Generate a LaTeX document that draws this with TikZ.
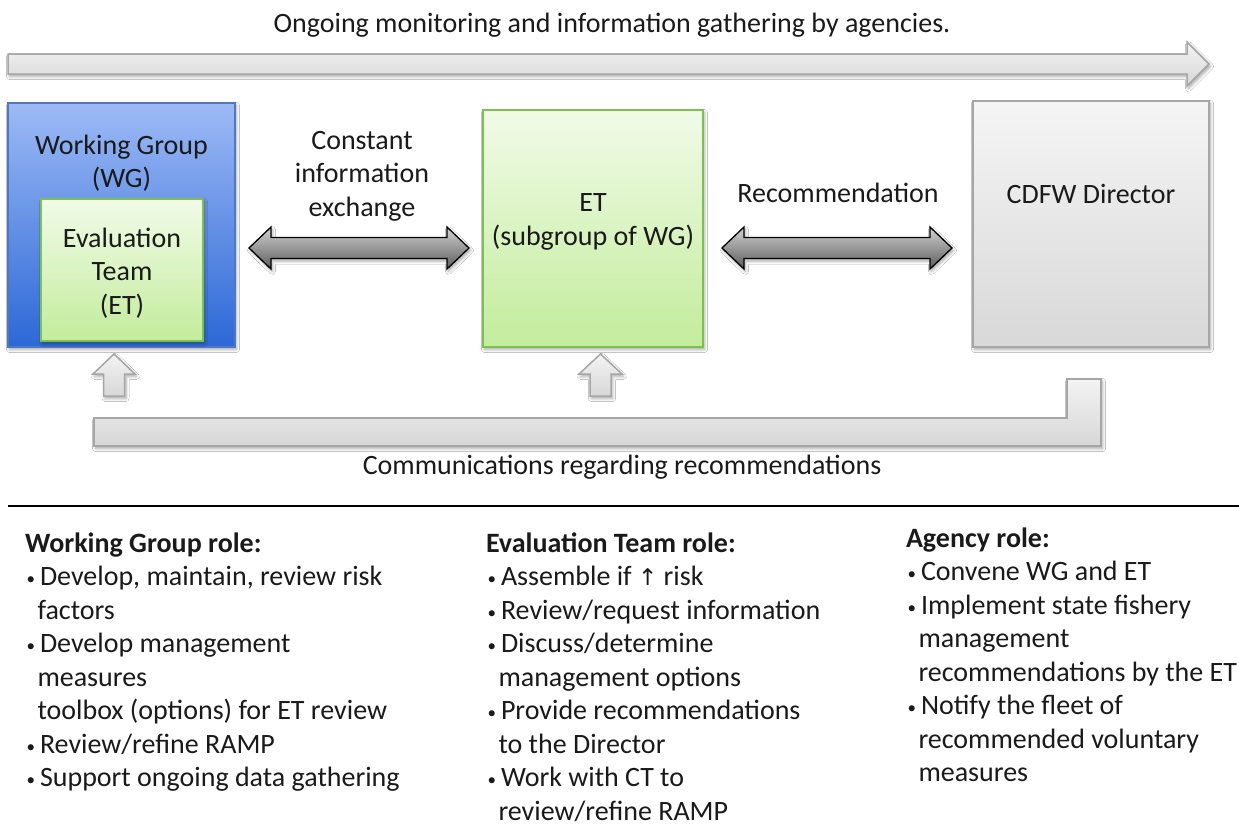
\documentclass[tikz,border=0pt]{standalone}
\usepackage{fontspec}
\setmainfont{Carlito}
\newfontfamily\symfont{DejaVu Sans}
\usetikzlibrary{shadows.blur}
\definecolor{wgtop}{HTML}{9DBAF6}
\definecolor{wgbot}{HTML}{2C68D6}
\definecolor{wgborder}{HTML}{4E78C4}
\definecolor{ettop}{HTML}{F1FBE8}
\definecolor{etbot}{HTML}{C3EC9C}
\definecolor{etborder}{HTML}{7DC04C}
\definecolor{dirtop}{HTML}{F5F5F5}
\definecolor{dirbot}{HTML}{D8D8D8}
\definecolor{dirborder}{HTML}{A6A6A6}
\definecolor{ltop}{HTML}{F3F3F3}
\definecolor{lbot}{HTML}{D7D7D7}
\definecolor{dtop}{HTML}{D2D2D2}
\definecolor{dbot}{HTML}{5C5C5C}
\definecolor{textcol}{HTML}{1A1A1A}
\newcommand{\bl}{\makebox[15pt][l]{\hspace*{1.5pt}\raisebox{1pt}{\fontsize{17}{33.5}\selectfont•}}}
\newcommand{\cl}{\hspace*{12.5pt}}
\begin{document}
\begin{tikzpicture}[x=1pt,y=1pt,
  shad/.style={blur shadow={shadow xshift=1.5pt, shadow yshift=-2.5pt, shadow opacity=35, shadow blur steps=6, shadow blur radius=3pt}},
  boxbase/.style={rectangle, inner sep=0pt, outer sep=0pt, anchor=north west, shad},
  wgbox/.style={boxbase, draw=wgborder, line width=1.2pt, top color=wgtop, bottom color=wgbot},
  etbox/.style={boxbase, draw=etborder, line width=1.5pt, top color=ettop, bottom color=etbot},
  dirbox/.style={boxbase, draw=dirborder, line width=1.5pt, top color=dirtop, bottom color=dirbot},
  lightarrow/.style={draw=dirborder, line width=1.5pt, top color=ltop, bottom color=lbot, shad},
  darkarrow/.style={draw=black, line width=1.3pt, top color=dtop, bottom color=dbot, shad},
  txt/.style={font=\fontsize{28}{33.5}\selectfont, inner sep=0pt, outer sep=0pt, text=textcol},
  rule/.style={draw=black, line width=2pt}
]
\useasboundingbox (0,0) rectangle (1239,-823);
\fill[white] (0,0) rectangle (1239,-823);

% title and top arrow
\node[txt, anchor=base] (title) at (612,-32) {Ongoing monitoring and information gathering by agencies.};
\path[lightarrow] (8,-54) -- (1187,-54) -- (1187,-42) -- (1209,-64) -- (1187,-86) -- (1187,-74) -- (8,-74) -- cycle;

% boxes
\node[wgbox, minimum width=227pt, minimum height=244pt] (wg) at (8,-103) {};
\node[etbox, minimum width=162pt, minimum height=142pt] (etin) at (41,-199) {};
\node[etbox, minimum width=220pt, minimum height=237pt] (et) at (483,-110) {};
\node[dirbox, minimum width=236pt, minimum height=246pt] (dir) at (973,-101) {};

\node[txt, align=center, anchor=north] (wgtxt) at (121.5,-130.55) {\strut Working Group\\(WG)};
\node[txt, align=center, anchor=north] (etintxt) at (122,-223.55) {\strut Evaluation\\Team\\(ET)};
\node[txt, align=center, anchor=north] (ettxt) at (593,-188.05) {\strut ET\\(subgroup of WG)};
\node[txt, anchor=base] (dirtxt) at (1091,-203) {CDFW Director};

% double arrows
\path[darkarrow] (249,-248) -- (271,-227) -- (271,-237.5) -- (447,-237.5) -- (447,-227) -- (469,-248) -- (447,-269) -- (447,-258.5) -- (271,-258.5) -- (271,-269) -- cycle;
\path[darkarrow] (722,-248) -- (744,-227) -- (744,-237.5) -- (930,-237.5) -- (930,-227) -- (952,-248) -- (930,-269) -- (930,-258.5) -- (744,-258.5) -- (744,-269) -- cycle;
\node[txt, align=center, anchor=north] (xch) at (362,-125.55) {\strut Constant\\information\\exchange};
\node[txt, anchor=base] (rec) at (838,-202) {Recommendation};

% up arrows and bracket
\path[lightarrow] (114,-354) -- (135,-374) -- (124.5,-374) -- (124.5,-396) -- (103.5,-396) -- (103.5,-374) -- (93,-374) -- cycle;
\path[lightarrow] (600.5,-354) -- (622,-374) -- (611,-374) -- (611,-396) -- (590,-396) -- (590,-374) -- (579,-374) -- cycle;
\path[lightarrow] (94,-418) -- (1067,-418) -- (1067,-379) -- (1101,-379) -- (1101,-446) -- (94,-446) -- cycle;
\node[txt, anchor=base] (comm) at (622,-474) {Communications regarding recommendations};

% separator
\draw[rule] (8,-506) -- (1239,-506);

% role columns
\node[txt, align=left, anchor=north west] (wgrole) at (25,-528.55) {\strut\textbf{Working Group role:}\\
\bl Develop, maintain, review risk\\
\cl factors\\
\bl Develop management\\
\cl measures\\
\cl toolbox (options) for ET review\\
\bl Review/refine RAMP\\
\bl Support ongoing data gathering};

\node[txt, align=left, anchor=north west] (etrole) at (486,-528.55) {\strut\textbf{Evaluation Team role:}\\
\bl Assemble if {\symfont\fontsize{23}{33.5}\selectfont ↑} risk\\
\bl Review/request information\\
\bl Discuss/determine\\
\cl management options\\
\bl Provide recommendations\\
\cl to the Director\\
\bl Work with CT to\\
\cl review/refine RAMP};

\node[txt, align=left, anchor=north west] (agrole) at (906,-523.55) {\strut\textbf{Agency role:}\\
\bl Convene WG and ET\\
\bl Implement state fishery\\
\cl management\\
\cl recommendations by the ET\\
\bl Notify the fleet of\\
\cl recommended voluntary\\
\cl measures};
\end{tikzpicture}
\end{document}
